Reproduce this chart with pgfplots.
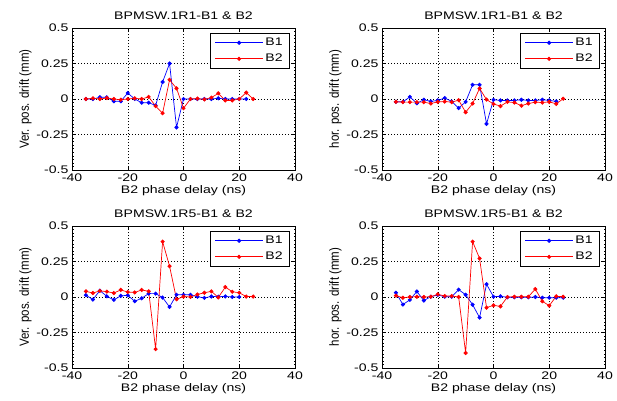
\documentclass[border=0pt]{standalone}
\usepackage{fontspec}
\setmainfont{Liberation Sans}[FakeStretch=1.28]
\newfontfamily\ylabfont{Liberation Sans}
\usepackage{graphicx}
\usepackage{pgfplots}
\pgfplotsset{compat=1.18}

\pgfplotsset{
  panel/.style={
    scale only axis, width=223pt, height=142pt,
    xmin=-40, xmax=40, ymin=-0.5, ymax=0.5,
    xtick={-40,-20,0,20,40}, xticklabels={-40,-20,0,20,40},
    ytick={-0.5,-0.25,0,0.25,0.5},
    yticklabels={-0.5,-0.25,0,0.25,0.5},
    minor y tick num=9,
    tick align=inside, major tick length=3pt, minor tick length=1.5pt,
    grid=major,
    major grid style={black, line width=0.5pt, dash pattern=on 1pt off 2pt},
    axis line style={line width=0.6pt},
    tick style={black, line width=0.5pt},
    font=\fontsize{11}{13}\selectfont,
    tick label style={font=\fontsize{11}{13}\selectfont},
    title style={font=\fontsize{11}{13}\selectfont, yshift=-1pt},
    xlabel={B2 phase delay (ns)},
    xlabel style={yshift=3pt},
    ylabel style={font=\ylabfont\fontsize{11.5}{13}\selectfont, yshift=-2pt},
    legend style={at={(0.977,0.965)}, anchor=north east, draw=black,
      font=\fontsize{11}{13}\selectfont, row sep=3pt,
      inner xsep=5pt, inner ysep=3pt},
    legend cell align=left,
    legend image code/.code={\draw[mark repeat=2,mark phase=2,#1]
      plot coordinates {(0pt,0pt) (24pt,0pt) (48pt,0pt)};},
  },
  b1/.style={blue, mark=*, mark size=1.7pt, line width=0.7pt},
  b2/.style={red, mark=*, mark size=1.7pt, line width=0.7pt},
}

\begin{document}
\begin{tikzpicture}
\path[use as bounding box] (0,0) rectangle (617pt,-400pt);

% top left
\begin{axis}[panel, at={(72pt,-28pt)}, anchor=north west,
  title={BPMSW.1R1-B1 \& B2},
  ylabel={\scalebox{1}[1.15]{Ver. pos. drift (mm)}}]
\addplot[b1] coordinates {
(-35,0) (-32.5,0) (-30,0.012) (-27.5,0.012) (-25,-0.016) (-22.5,-0.016)
(-20,0.042) (-17.5,0) (-15,-0.026) (-12.5,-0.026) (-10,-0.045) (-7.5,0.12)
(-5,0.25) (-2.5,-0.2) (0,0) (2.5,0) (5,0) (7.5,0) (10,0) (12.5,0.005)
(15,0) (17.5,0) (20,0) (22.5,0)
};
\addlegendentry{B1}
\addplot[b2] coordinates {
(-35,0) (-32.5,0.005) (-30,0) (-27.5,0.007) (-25,0) (-22.5,-0.005)
(-20,0) (-17.5,0.005) (-15,0) (-12.5,0.015) (-10,-0.05) (-7.5,-0.1)
(-5,0.135) (-2.5,0.075) (0,-0.065) (2.5,0) (5,0.003) (7.5,-0.003)
(10,0.01) (12.5,0.04) (15,-0.01) (17.5,-0.01) (20,0) (22.5,0.045) (25,0)
};
\addlegendentry{B2}
\end{axis}

% top right
\begin{axis}[panel, at={(382pt,-28pt)}, anchor=north west,
  title={BPMSW.1R1-B1 \& B2},
  ylabel={\scalebox{1}[1.15]{hor. pos. drift (mm)}}]
\addplot[b1] coordinates {
(-35,-0.02) (-32.5,-0.02) (-30,0.015) (-27.5,-0.03) (-25,-0.005) (-22.5,-0.017)
(-20,-0.01) (-17.5,0.007) (-15,-0.017) (-12.5,-0.064) (-10,-0.02) (-7.5,0.1)
(-5,0.1) (-2.5,-0.175) (0,-0.005) (2.5,-0.01) (5,-0.01) (7.5,-0.01)
(10,-0.005) (12.5,-0.01) (15,-0.01) (17.5,-0.005) (20,-0.01) (22.5,-0.017)
};
\addlegendentry{B1}
\addplot[b2] coordinates {
(-35,-0.02) (-32.5,-0.022) (-30,-0.022) (-27.5,-0.022) (-25,-0.022) (-22.5,-0.032)
(-20,-0.02) (-17.5,-0.018) (-15,-0.022) (-12.5,-0.008) (-10,-0.093) (-7.5,-0.032)
(-5,0.074) (-2.5,-0.004) (0,-0.035) (2.5,-0.05) (5,-0.02) (7.5,-0.025)
(10,-0.047) (12.5,-0.032) (15,-0.022) (17.5,-0.025) (20,-0.02) (22.5,-0.034) (25,0.002)
};
\addlegendentry{B2}
\end{axis}

% bottom left
\begin{axis}[panel, at={(72pt,-226pt)}, anchor=north west,
  title={BPMSW.1R5-B1 \& B2},
  ylabel={\scalebox{1}[1.15]{Ver. pos. drift (mm)}}]
\addplot[b1] coordinates {
(-35,0.013) (-32.5,-0.018) (-30,0.045) (-27.5,0.005) (-25,-0.02) (-22.5,0.008)
(-20,0.012) (-17.5,-0.03) (-15,-0.009) (-12.5,0.024) (-10,0.024) (-7.5,-0.004)
(-5,-0.07) (-2.5,0.016) (0,0.016) (2.5,0.015) (5,0.002) (7.5,-0.006)
(10,0.004) (12.5,0.002) (15,0.004) (17.5,0) (20,0)
};
\addlegendentry{B1}
\addplot[b2] coordinates {
(-35,0.04) (-32.5,0.028) (-30,0.043) (-27.5,0.038) (-25,0.028) (-22.5,0.05)
(-20,0.035) (-17.5,0.032) (-15,0.05) (-12.5,0.04) (-10,-0.367) (-7.5,0.39)
(-5,0.217) (-2.5,-0.016) (0,0.003) (2.5,0) (5,0.018) (7.5,0.03)
(10,0.04) (12.5,-0.003) (15,0.07) (17.5,0.037) (20,0.03) (22.5,0.003) (25,0.003)
};
\addlegendentry{B2}
\end{axis}

% bottom right
\begin{axis}[panel, at={(382pt,-226pt)}, anchor=north west,
  title={BPMSW.1R5-B1 \& B2},
  ylabel={\scalebox{1}[1.15]{hor. pos. drift (mm)}}]
\addplot[b1] coordinates {
(-35,0.03) (-32.5,-0.053) (-30,-0.02) (-27.5,0.039) (-25,-0.025) (-22.5,0.002)
(-20,0.014) (-17.5,0.002) (-15,0.002) (-12.5,0.052) (-10,0.016) (-7.5,-0.054)
(-5,-0.145) (-2.5,0.09) (0,0.002) (2.5,0.005) (5,-0.002) (7.5,-0.002)
(10,-0.002) (12.5,-0.002) (15,0) (17.5,-0.005) (20,-0.005) (22.5,-0.005) (25,-0.005)
};
\addlegendentry{B1}
\addplot[b2] coordinates {
(-35,0.009) (-32.5,-0.005) (-30,0) (-27.5,0.002) (-25,0) (-22.5,0.002)
(-20,0.019) (-17.5,0.007) (-15,0.007) (-12.5,0) (-10,-0.394) (-7.5,0.39)
(-5,0.272) (-2.5,-0.075) (0,-0.059) (2.5,-0.066) (5,0) (7.5,0.002)
(10,0.002) (12.5,0.002) (15,0.056) (17.5,-0.03) (20,-0.061) (22.5,0.005) (25,0.002)
};
\addlegendentry{B2}
\end{axis}
\end{tikzpicture}
\end{document}
